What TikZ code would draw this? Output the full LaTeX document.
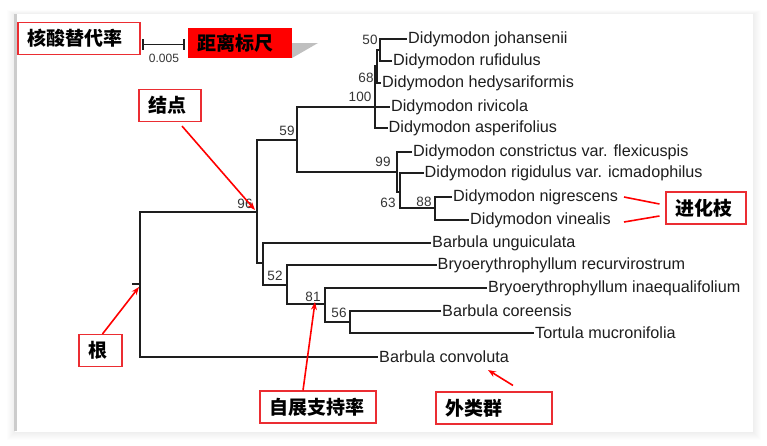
\documentclass[tikz,border=0pt]{standalone}
\usepackage{fontspec}
\setmainfont{Liberation Sans}
\newfontfamily\cjk{Noto Sans CJK SC}
\usetikzlibrary{arrows.meta}
\definecolor{notered}{RGB}{235,45,50}
\definecolor{treeink}{RGB}{30,30,30}
\tikzset{
  branch/.style={draw=treeink, line width=1.5pt, line cap=rect},
  taxon/.style={anchor=west, inner xsep=1.5pt, inner ysep=0pt, text=treeink,
    font=\fontsize{16.2}{18}\selectfont},
  support/.style={inner sep=0pt, text=treeink!90, font=\fontsize{13.5}{15}\selectfont},
  notebox/.style={draw=notered, line width=1.1pt, fill=white, inner xsep=9pt,
    inner ysep=2pt, minimum height=32pt, text width=#1, align=left,
    font=\cjk\bfseries\fontsize{19}{22}\selectfont},
  pointer/.style={draw=red, line width=1.6pt, -{Stealth[length=8pt,width=6pt]}}
}
\begin{document}
\begin{tikzpicture}[x=1pt,y=-1pt]
  \useasboundingbox (0,0) rectangle (767,445);
  % 背景与面板阴影
  \fill[white] (0,0) rectangle (767,445);
  \foreach \s in {1,...,8} {
      \fill[black, opacity=0.006] (15-\s,14-0.5*\s) rectangle (753+\s,432+\s);
  }
  \fill[white] (15,14) rectangle (753,432);
  \fill[black!20] (14,14) rectangle (17,431);
  % 根
  \draw[branch] (133,284) -- (140,284);
  \draw[branch] (140,212) -- (140,357);
  \draw[branch] (140,212) -- (257,212);
  % 结点 96 与 59
  \draw[branch] (257,140) -- (257,263) -- (263,263);
  \draw[branch] (257,140) -- (297,140);
  \draw[branch] (297,107) -- (297,172);
  % 结点 100 / 68 / 50
  \draw[branch] (297,107) -- (375,107);
  \draw[branch] (375,66) -- (375,128);
  \draw[branch] (375,66) -- (377,66);
  \draw[branch] (377,50) -- (377,83);
  \draw[branch] (377,50) -- (380,50);
  \draw[branch] (380,39) -- (380,61);
  % 结点 99 / 63 / 88
  \draw[branch] (297,172) -- (397,172);
  \draw[branch] (397,152) -- (397,192) -- (400,192);
  \draw[branch] (400,173) -- (400,208) -- (435,208);
  \draw[branch] (435,197) -- (435,220);
  % 结点 52 / 81 / 56
  \draw[branch] (263,243) -- (263,285) -- (287,285);
  \draw[branch] (287,265) -- (287,304) -- (325,304);
  \draw[branch] (325,288) -- (325,322) -- (350,322);
  \draw[branch] (350,311) -- (350,333);
  % 末端分支与物种名
  \foreach \bx/\y/\lx/\name in {
      380/39/406.5/Didymodon johansenii,
      380/61/391.5/Didymodon rufidulus,
      377/83/380.5/Didymodon hedysariformis,
      375/107/389.5/Didymodon rivicola,
      375/128/387/Didymodon asperifolius,
      397/152/411.5/Didymodon constrictus var. flexicuspis,
      400/173/423/Didymodon rigidulus var. icmadophilus,
      435/197/451.5/Didymodon nigrescens,
      435/220/468.5/Didymodon vinealis,
      263/243/430.5/Barbula unguiculata,
      287/265/436/Bryoerythrophyllum recurvirostrum,
      325/288/486.5/Bryoerythrophyllum inaequalifolium,
      350/311/440.5/Barbula coreensis,
      350/333/533.5/Tortula mucronifolia,
      140/357/377.5/Barbula convoluta} {
      \node[taxon] (t\y) at (\lx,\y) {\name};
      \draw[branch] (\bx,\y) -- (t\y.west);
  }
  % 自展值
  \foreach \x/\y/\v in {370/40/50, 366/78/68, 360/97/100, 287/131/59, 245/204/96,
      383/162/99, 388/203/63, 424/202/88, 275/276/52, 313/297/81, 339/313/56} {
      \node[support] (s\v) at (\x,\y) {\v};
  }
  % 标尺
  \draw[branch, line width=1.2pt] (143,40) -- (143,49) (143,44.5) -- (184,44.5) (184,40) -- (184,49);
  \node[support, font=\fontsize{12}{14}\selectfont] (barval) at (164,58) {0.005};
  \fill[black!25] (292,43) -- (318,43) -- (292,58) -- cycle;
  \node[notebox=86pt, draw=none, fill=red, minimum height=30pt] (ruler) at (240,43) {距离标尺};
  % 标注框
  \node[notebox=104pt] (subst) at (79,38.5) {核酸替代率};
  \node[notebox=44pt] (knot) at (170,105.5) {结点};
  \node[notebox=62pt] (clade) at (706,208) {进化枝};
  \node[notebox=25pt] (rootbox) at (100.5,350.5) {根};
  \node[notebox=98pt] (boot) at (318,407) {自展支持率};
  \node[notebox=98pt] (outgrp) at (494,408) {外类群};
  % 指示箭头
  \coordinate (tip96) at (255,210);
  \coordinate (tiproot) at (139,287);
  \coordinate (tip81) at (315,302);
  \coordinate (tipout) at (488,370);
  \coordinate (endnig) at (624,197);
  \coordinate (endvin) at (624,222);
  \draw[pointer] ([xshift=12pt,yshift=-4pt]knot.south) -- (tip96);
  \draw[pointer] ([xshift=2pt]rootbox.north) -- (tiproot);
  \draw[pointer] ([xshift=-15pt]boot.north) -- (tip81);
  \draw[pointer] ([xshift=19pt,yshift=6pt]outgrp.north) -- (tipout);
  \draw[red, line width=1.6pt] ([xshift=-6pt,yshift=4pt]clade.west) -- (endnig);
  \draw[red, line width=1.6pt] ([xshift=-6pt,yshift=-8pt]clade.west) -- (endvin);
\end{tikzpicture}
\end{document}
